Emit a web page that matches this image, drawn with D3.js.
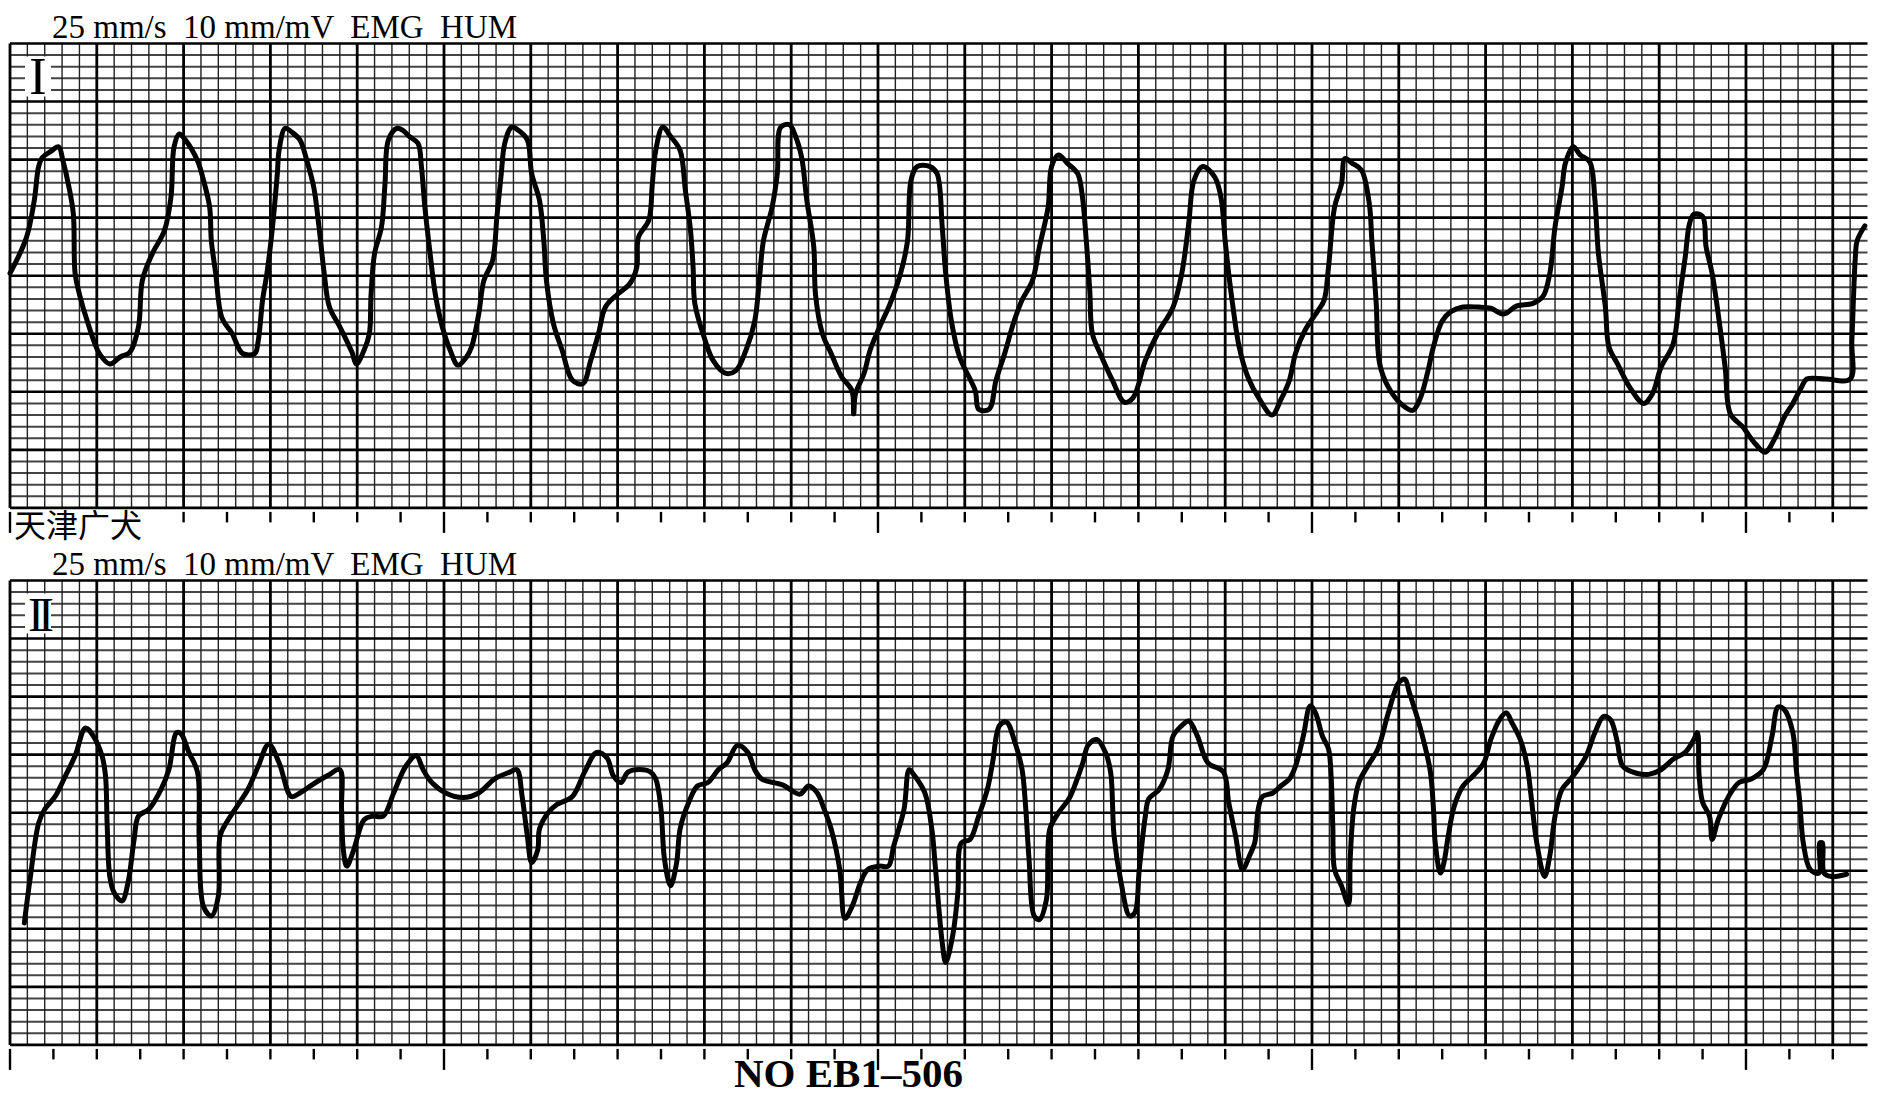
<!DOCTYPE html>
<html>
<head>
<meta charset="utf-8">
<script src="https://cdn.jsdelivr.net/npm/d3@7/dist/d3.min.js"></script>
<style>
    body { margin: 0; background: #fff; }
    svg { display: block; }
    text { white-space: pre; }
</style>
</head>
<body>
<svg id="chart" width="1888" height="1098"></svg>
<script>
// paper settings
var paperSpeed = 25   // mm/s
var gain = 10         // mm/mV
var stripMm = 107     // paper width in mm
var stripRows = 40    // paper height in mm

var headerText = "25 mm/s  10 mm/mV  EMG  HUM"
var leadNames = ["I", "II"]
var dogLabel = "天津广犬"
var recordNo = "NO EB1–506"

// lead I  [seconds, mV]
var leadI = [
    [0.000,0.02],[0.038,0.33],[0.056,0.65],[0.066,0.94],[0.075,1.02],[0.094,1.07],[0.112,1.11],[0.122,0.99],[0.136,0.76],[0.146,0.53],
    [0.150,0.02],[0.160,-0.16],[0.178,-0.39],[0.206,-0.67],[0.230,-0.76],[0.254,-0.70],[0.276,-0.66],[0.296,-0.44],[0.305,-0.04],[0.328,0.19],
    [0.356,0.39],[0.371,0.68],[0.378,1.11],[0.390,1.22],[0.404,1.17],[0.432,0.99],[0.446,0.82],[0.460,0.59],[0.464,0.30],[0.474,0.02],
    [0.488,-0.36],[0.512,-0.50],[0.536,-0.67],[0.564,-0.67],[0.572,-0.56],[0.582,-0.21],[0.592,0.02],[0.604,0.39],[0.616,0.88],[0.620,1.08],
    [0.634,1.27],[0.648,1.24],[0.668,1.17],[0.684,0.99],[0.700,0.76],[0.712,0.42],[0.724,0.02],[0.736,-0.27],[0.760,-0.44],[0.788,-0.66],
    [0.798,-0.76],[0.816,-0.64],[0.828,-0.50],[0.832,-0.16],[0.840,0.19],[0.856,0.42],[0.864,0.79],[0.872,1.17],[0.892,1.27],[0.906,1.25],
    [0.920,1.20],[0.940,1.14],[0.948,0.94],[0.956,0.59],[0.968,0.19],[0.980,-0.16],[0.996,-0.44],[1.014,-0.64],[1.032,-0.77],[1.052,-0.70],
    [1.064,-0.61],[1.080,-0.33],[1.092,-0.04],[1.112,0.13],[1.122,0.51],[1.132,0.88],[1.140,1.14],[1.156,1.28],[1.172,1.25],[1.192,1.17],
    [1.202,0.88],[1.220,0.65],[1.230,0.30],[1.236,-0.04],[1.252,-0.41],[1.272,-0.64],[1.296,-0.90],[1.320,-0.93],[1.338,-0.73],[1.356,-0.50],
    [1.372,-0.27],[1.400,-0.16],[1.428,-0.07],[1.444,0.07],[1.448,0.33],[1.472,0.48],[1.480,0.79],[1.488,1.08],[1.504,1.28],[1.522,1.20],
    [1.544,1.08],[1.556,0.74],[1.568,0.39],[1.574,0.07],[1.578,-0.24],[1.602,-0.56],[1.620,-0.73],[1.648,-0.84],[1.672,-0.82],[1.696,-0.64],
    [1.716,-0.39],[1.728,0.02],[1.736,0.30],[1.756,0.59],[1.768,0.88],[1.776,1.28],[1.796,1.30],[1.808,1.22],[1.824,1.02],[1.836,0.65],
    [1.852,0.25],[1.856,-0.16],[1.872,-0.50],[1.892,-0.67],[1.916,-0.87],[1.940,-0.99],[1.944,-1.19],[1.948,-1.02],[1.968,-0.84],[1.982,-0.64],
    [2.004,-0.44],[2.028,-0.24],[2.052,0.02],[2.068,0.30],[2.076,0.82],[2.090,0.94],[2.120,0.94],[2.136,0.88],[2.148,0.42],[2.156,0.02],
    [2.170,-0.41],[2.188,-0.70],[2.224,-0.99],[2.232,-1.15],[2.256,-1.15],[2.272,-0.90],[2.292,-0.67],[2.312,-0.41],[2.332,-0.21],[2.356,-0.04],
    [2.372,0.25],[2.392,0.59],[2.400,0.94],[2.416,1.04],[2.436,0.97],[2.460,0.88],[2.470,0.71],[2.480,0.30],[2.488,-0.13],[2.494,-0.50],
    [2.512,-0.67],[2.540,-0.90],[2.568,-1.09],[2.588,-1.05],[2.616,-0.73],[2.644,-0.50],[2.680,-0.27],[2.700,0.02],[2.716,0.45],[2.728,0.82],
    [2.748,0.94],[2.776,0.85],[2.790,0.68],[2.800,0.30],[2.808,0.02],[2.818,-0.27],[2.832,-0.61],[2.852,-0.87],[2.880,-1.07],[2.908,-1.20],
    [2.928,-1.07],[2.948,-0.90],[2.962,-0.67],[2.984,-0.47],[3.014,-0.30],[3.028,-0.21],[3.038,0.07],[3.052,0.59],[3.068,0.79],[3.076,1.01],
    [3.092,0.97],[3.114,0.91],[3.132,0.62],[3.138,0.30],[3.148,-0.24],[3.156,-0.76],[3.176,-0.96],[3.204,-1.10],[3.232,-1.16],[3.248,-1.07],
    [3.266,-0.84],[3.280,-0.61],[3.300,-0.39],[3.320,-0.31],[3.348,-0.27],[3.384,-0.27],[3.412,-0.28],[3.442,-0.33],[3.472,-0.26],[3.508,-0.24],
    [3.532,-0.18],[3.548,0.02],[3.560,0.42],[3.576,0.76],[3.584,0.97],[3.602,1.11],[3.618,1.04],[3.640,0.98],[3.652,0.65],[3.660,0.19],
    [3.676,-0.27],[3.684,-0.61],[3.704,-0.76],[3.732,-0.96],[3.764,-1.10],[3.784,-1.02],[3.804,-0.79],[3.832,-0.59],[3.846,-0.21],[3.860,0.16],
    [3.870,0.45],[3.880,0.53],[3.900,0.51],[3.908,0.25],[3.922,0.02],[3.936,-0.33],[3.952,-0.79],[3.964,-1.19],[3.992,-1.30],[4.022,-1.45],
    [4.044,-1.52],[4.068,-1.39],[4.088,-1.22],[4.108,-1.10],[4.128,-0.96],[4.140,-0.89],[4.184,-0.89],[4.240,-0.89],[4.244,-0.56],[4.252,0.16],
    [4.256,0.30],[4.274,0.43]
]

// lead II  [seconds, mV]
var leadII = [
    [0.033,-0.95],[0.047,-0.55],[0.066,-0.09],[0.080,0.03],[0.104,0.14],[0.128,0.32],[0.150,0.49],[0.174,0.73],[0.192,0.66],[0.212,0.49],
    [0.220,0.32],[0.224,-0.12],[0.230,-0.55],[0.240,-0.69],[0.258,-0.76],[0.272,-0.60],[0.286,-0.23],[0.296,-0.03],[0.320,0.03],[0.348,0.20],
    [0.366,0.37],[0.384,0.69],[0.394,0.68],[0.412,0.52],[0.432,0.35],[0.436,-0.26],[0.446,-0.81],[0.464,-0.89],[0.480,-0.72],[0.484,-0.20],
    [0.498,-0.09],[0.524,0.06],[0.548,0.20],[0.572,0.40],[0.596,0.59],[0.620,0.43],[0.648,0.14],[0.668,0.17],[0.696,0.24],[0.732,0.32],
    [0.760,0.37],[0.764,0.03],[0.768,-0.32],[0.776,-0.46],[0.792,-0.32],[0.816,-0.06],[0.836,-0.03],[0.860,-0.03],[0.884,0.17],[0.912,0.40],
    [0.936,0.49],[0.952,0.37],[0.972,0.26],[1.004,0.17],[1.044,0.13],[1.080,0.17],[1.116,0.29],[1.152,0.35],[1.168,0.37],[1.180,0.14],
    [1.192,-0.20],[1.202,-0.43],[1.216,-0.32],[1.220,-0.14],[1.240,0.00],[1.260,0.07],[1.296,0.14],[1.324,0.35],[1.352,0.52],[1.376,0.47],
    [1.390,0.32],[1.408,0.26],[1.424,0.35],[1.460,0.37],[1.476,0.35],[1.488,0.29],[1.500,0.03],[1.508,-0.40],[1.522,-0.63],[1.536,-0.43],
    [1.544,-0.14],[1.564,0.09],[1.584,0.23],[1.608,0.26],[1.632,0.37],[1.652,0.43],[1.676,0.58],[1.700,0.52],[1.716,0.37],[1.732,0.29],
    [1.780,0.24],[1.820,0.16],[1.840,0.23],[1.860,0.17],[1.876,0.03],[1.892,-0.14],[1.912,-0.49],[1.924,-0.91],[1.940,-0.81],[1.960,-0.60],
    [1.976,-0.49],[2.004,-0.46],[2.024,-0.46],[2.036,-0.29],[2.060,0.03],[2.072,0.37],[2.084,0.32],[2.108,0.17],[2.124,-0.14],[2.132,-0.46],
    [2.148,-1.12],[2.156,-1.29],[2.172,-1.06],[2.184,-0.69],[2.192,-0.26],[2.212,-0.23],[2.232,-0.03],[2.252,0.20],[2.264,0.43],[2.280,0.75],
    [2.296,0.78],[2.316,0.60],[2.332,0.37],[2.340,0.06],[2.348,-0.40],[2.360,-0.89],[2.372,-0.92],[2.388,-0.75],[2.396,-0.14],[2.416,0.00],
    [2.440,0.12],[2.456,0.26],[2.472,0.43],[2.484,0.58],[2.504,0.63],[2.524,0.52],[2.536,0.35],[2.544,-0.20],[2.560,-0.60],[2.580,-0.89],
    [2.592,-0.86],[2.602,-0.49],[2.616,-0.03],[2.624,0.12],[2.648,0.20],[2.668,0.37],[2.680,0.66],[2.700,0.75],[2.716,0.79],[2.736,0.66],
    [2.760,0.43],[2.796,0.35],[2.808,0.09],[2.824,-0.20],[2.840,-0.49],[2.856,-0.37],[2.868,-0.26],[2.876,0.03],[2.886,0.14],[2.910,0.17],
    [2.928,0.23],[2.948,0.29],[2.962,0.40],[2.980,0.66],[2.996,0.92],[3.008,0.86],[3.024,0.66],[3.038,0.55],[3.044,0.32],[3.048,-0.12],
    [3.052,-0.49],[3.068,-0.63],[3.084,-0.79],[3.088,-0.40],[3.096,0.03],[3.108,0.26],[3.128,0.40],[3.152,0.55],[3.176,0.86],[3.200,1.12],
    [3.214,1.15],[3.224,1.04],[3.248,0.75],[3.272,0.37],[3.280,0.03],[3.284,-0.26],[3.296,-0.52],[3.304,-0.43],[3.314,-0.20],[3.328,0.06],
    [3.348,0.23],[3.372,0.32],[3.396,0.43],[3.412,0.63],[3.432,0.80],[3.448,0.86],[3.460,0.78],[3.480,0.63],[3.496,0.40],[3.504,0.17],
    [3.518,-0.26],[3.536,-0.55],[3.548,-0.37],[3.560,-0.03],[3.576,0.20],[3.596,0.29],[3.612,0.37],[3.632,0.49],[3.652,0.69],[3.672,0.83],
    [3.688,0.80],[3.704,0.60],[3.716,0.40],[3.748,0.34],[3.776,0.33],[3.804,0.37],[3.832,0.46],[3.860,0.52],[3.880,0.63],[3.888,0.69],
    [3.892,0.32],[3.900,0.09],[3.916,-0.03],[3.922,-0.23],[3.936,-0.06],[3.960,0.14],[3.984,0.26],[4.012,0.29],[4.040,0.37],[4.060,0.66],
    [4.074,0.91],[4.088,0.89],[4.108,0.69],[4.116,0.37],[4.124,0.09],[4.132,-0.26],[4.148,-0.49],[4.168,-0.52],[4.170,-0.26],[4.176,-0.26],
    [4.180,-0.52],[4.198,-0.55],[4.232,-0.53]
]

var svg = d3.select("#chart")

svg.append("rect")
    .attr("width", 1888)
    .attr("height", 1098)
    .style("fill", "#fff")

var x = d3.scaleLinear()
    .domain([0, stripMm / paperSpeed])
    .range([10, 1867.5])

var halfSpan = stripRows / gain / 2  // mV above/below the middle line

function drawStrip(top, data, leadName, idx) {
    var height = 464.4
    var y = d3.scaleLinear()
        .domain([halfSpan, -halfSpan])
        .range([top, top + height])

    var g = svg.append("g").attr("class", "strip")

    // small squares first, then the 5 mm ones on top
    var vCols = d3.range(0, stripMm)
    var hRows = d3.range(0, stripRows + 1)

    g.selectAll(".hminor")
        .data(hRows.filter(function(j) { return j % 5 != 0 }))
        .enter().append("line")
        .attr("x1", x(0))
        .attr("x2", x(stripMm / paperSpeed))
        .attr("y1", function(j) { return y(halfSpan - j / gain) })
        .attr("y2", function(j) { return y(halfSpan - j / gain) })
        .style("stroke", "#444")
        .style("stroke-width", 2)

    g.selectAll(".vminor")
        .data(vCols.filter(function(i) { return i % 5 != 0 }))
        .enter().append("line")
        .attr("x1", function(i) { return x(i / paperSpeed) })
        .attr("x2", function(i) { return x(i / paperSpeed) })
        .attr("y1", top)
        .attr("y2", top + height)
        .style("stroke", "#222")
        .style("stroke-width", 1.4)

    g.selectAll(".hmajor")
        .data(hRows.filter(function(j) { return j % 5 == 0 }))
        .enter().append("line")
        .attr("x1", x(0))
        .attr("x2", x(stripMm / paperSpeed))
        .attr("y1", function(j) { return y(halfSpan - j / gain) })
        .attr("y2", function(j) { return y(halfSpan - j / gain) })
        .style("stroke", "#000")
        .style("stroke-width", 2.6)

    g.selectAll(".vmajor")
        .data(vCols.filter(function(i) { return i % 5 == 0 }))
        .enter().append("line")
        .attr("x1", function(i) { return x(i / paperSpeed) })
        .attr("x2", function(i) { return x(i / paperSpeed) })
        .attr("y1", top)
        .attr("y2", top + height)
        .style("stroke", "#000")
        .style("stroke-width", 2.8)

    // time marks under the paper, every 0.1 s, long one every second
    var marks = d3.range(0, 43).map(function(k) { return k * 0.1 })
    g.selectAll(".mark")
        .data(marks)
        .enter().append("line")
        .attr("x1", function(d) { return x(d) })
        .attr("x2", function(d) { return x(d) })
        .attr("y1", top + height + 4)
        .attr("y2", function(d, k) { return top + height + (k % 10 == 0 ? 25 : 14.5) })
        .style("stroke", "#000")
        .style("stroke-width", 2.4)

    // lead name on white patch
    var lx = 38, ly = top + 50
    g.append("rect")
        .attr("x", lx - 13)
        .attr("y", ly - 37)
        .attr("width", 26)
        .attr("height", 40)
        .style("fill", "#fff")
    g.append("text")
        .attr("x", lx)
        .attr("y", ly)
        .attr("text-anchor", "middle")
        .style("font-family", "'Liberation Serif', serif")
        .style("font-size", idx == 0 ? "52px" : "48px")
        .style("letter-spacing", idx == 0 ? "0px" : "-6px")
        .style("fill", "#000")
        .text(leadName)

    // the trace
    var line = d3.line()
        .x(function(d) { return x(d[0]) })
        .y(function(d) { return y(d[1]) })
        .curve(d3.curveCatmullRom.alpha(0.5))

    g.append("path")
        .datum(data)
        .attr("d", line)
        .style("fill", "none")
        .style("stroke", "#000")
        .style("stroke-width", 5)
        .style("stroke-linejoin", "round")
        .style("stroke-linecap", "round")

    // header above the paper
    svg.append("text")
        .attr("x", 52)
        .attr("y", top - 6)
        .style("font-family", "'Liberation Serif', serif")
        .style("font-size", "33px")
        .style("fill", "#000")
        .text(headerText)
}

drawStrip(43.5, leadI, leadNames[0], 0)
drawStrip(580.5, leadII, leadNames[1], 1)

// dog label sits over the first marks
svg.append("rect")
    .attr("x", 14)
    .attr("y", 511)
    .attr("width", 138)
    .attr("height", 34)
    .style("fill", "#fff")

svg.append("text")
    .attr("x", 14)
    .attr("y", 537)
    .style("font-family", "'Noto Sans CJK SC', sans-serif")
    .style("font-size", "32px")
    .style("fill", "#000")
    .text(dogLabel)

svg.append("text")
    .attr("x", 734)
    .attr("y", 1087)
    .style("font-family", "'Liberation Serif', serif")
    .style("font-size", "41px")
    .style("font-weight", "bold")
    .style("fill", "#000")
    .text(recordNo)
</script>
</body>
</html>
